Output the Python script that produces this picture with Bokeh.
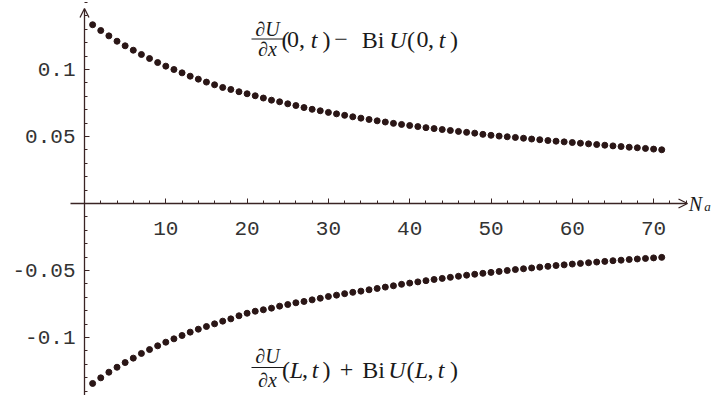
from bokeh.plotting import figure
from bokeh.models import LinearAxis, FixedTicker, Arrow, OpenHead, Label, Range1d
from bokeh.embed import file_html
from bokeh.resources import INLINE

# ---- data -------------------------------------------------------------
n_terms = list(range(1, 72))

# dU/dx(0,t) - Bi U(0,t)
flux_left = [
    0.1334, 0.1291, 0.1251, 0.1211, 0.1177, 0.1144, 0.1112, 0.1082, 0.1052, 0.1025,
    0.1000, 0.0975, 0.0950, 0.0928, 0.0906, 0.0886, 0.0866, 0.0851, 0.0834, 0.0819,
    0.0804, 0.0787, 0.0771, 0.0759, 0.0744, 0.0731, 0.0716, 0.0703, 0.0692, 0.0680,
    0.0669, 0.0658, 0.0647, 0.0637, 0.0627, 0.0617, 0.0608, 0.0598, 0.0590, 0.0582,
    0.0574, 0.0566, 0.0559, 0.0552, 0.0545, 0.0538, 0.0531, 0.0525, 0.0516, 0.0509,
    0.0503, 0.0498, 0.0493, 0.0487, 0.0481, 0.0476, 0.0470, 0.0465, 0.0460, 0.0455,
    0.0450, 0.0445, 0.0440, 0.0435, 0.0430, 0.0425, 0.0420, 0.0416, 0.0411, 0.0406,
    0.0401,
]

# dU/dx(L,t) + Bi U(L,t)
flux_right = [
    -0.1343, -0.1301, -0.1259, -0.1222, -0.1187, -0.1154, -0.1119, -0.1090, -0.1062, -0.1035,
    -0.1010, -0.0985, -0.0960, -0.0938, -0.0918, -0.0898, -0.0878, -0.0861, -0.0838, -0.0819,
    -0.0804, -0.0793, -0.0781, -0.0766, -0.0754, -0.0741, -0.0731, -0.0719, -0.0707, -0.0694,
    -0.0684, -0.0673, -0.0663, -0.0654, -0.0644, -0.0634, -0.0624, -0.0614, -0.0603, -0.0594,
    -0.0585, -0.0576, -0.0567, -0.0559, -0.0551, -0.0543, -0.0535, -0.0528, -0.0521, -0.0514,
    -0.0507, -0.0500, -0.0493, -0.0487, -0.0481, -0.0475, -0.0469, -0.0463, -0.0458, -0.0452,
    -0.0447, -0.0442, -0.0437, -0.0432, -0.0427, -0.0423, -0.0418, -0.0414, -0.0410, -0.0406,
    -0.0402,
]

x_ticks = [10, 20, 30, 40, 50, 60, 70]
x_minor = list(range(2, 76, 2))
y_ticks = [-0.1, -0.05, 0.05, 0.1]
y_tick_labels = ["-0.1", "-0.05", "0.05", "0.1"]
y_minor = [round(-0.14 + 0.01 * i, 2) for i in range(30)]

# ---- geometry ---------------------------------------------------------
W, H = 712, 395
X0, Y0 = 84.0, 203.0      # where the two axes cross, in canvas pixels
SX, SY = 8.13, 1340.0     # pixels per data unit
TEXT_LIFT = 7             # Label baselines sit a little low; raise them

def dx(px):
    return (px - X0) / SX

def dy(py):
    return (Y0 - py) / SY

AX = "#3a2424"
DOT = "#2a1616"
INK = "#1a1a1a"

p = figure(width=W, height=H, output_backend="svg", toolbar_location=None,
           x_axis_type=None, y_axis_type=None,
           x_range=Range1d(dx(0), dx(W)), y_range=Range1d(dy(H), dy(0)),
           min_border=0, background_fill_color="white", border_fill_color="white")
p.outline_line_color = None
p.xgrid.visible = False
p.ygrid.visible = False

xaxis = LinearAxis(fixed_location=0,
                   ticker=FixedTicker(ticks=x_ticks, minor_ticks=x_minor),
                   axis_line_color=None,
                   major_tick_in=5, major_tick_out=0, minor_tick_in=3, minor_tick_out=0,
                   major_tick_line_color=AX, minor_tick_line_color=AX,
                   major_label_standoff=18,
                   major_label_text_font="Liberation Mono",
                   major_label_text_font_size="21px",
                   major_label_text_color="#333333")
p.add_layout(xaxis, "below")

yaxis = LinearAxis(fixed_location=0,
                   ticker=FixedTicker(ticks=y_ticks, minor_ticks=y_minor),
                   major_label_overrides={t: s for t, s in zip(y_ticks, y_tick_labels)},
                   axis_line_color=None,
                   major_tick_in=5, major_tick_out=0, minor_tick_in=3, minor_tick_out=0,
                   major_tick_line_color=AX, minor_tick_line_color=AX,
                   major_label_standoff=9,
                   major_label_text_font="Liberation Mono",
                   major_label_text_font_size="21px",
                   major_label_text_color="#333333")
p.add_layout(yaxis, "left")

# axis lines with open arrowheads
p.add_layout(Arrow(end=OpenHead(size=9, line_color=AX, line_width=1.3),
                   x_start=dx(70), y_start=0, x_end=dx(687), y_end=0,
                   line_color=AX, line_width=1.3))
p.add_layout(Arrow(end=OpenHead(size=9, line_color=AX, line_width=1.3),
                   x_start=0, y_start=dy(H + 5), x_end=0, y_end=dy(8),
                   line_color=AX, line_width=1.3))

# the two boundary-flux series
p.scatter(n_terms, flux_left, size=6, color=DOT)
p.scatter(n_terms, flux_right, size=6, color=DOT)


def put(text, px, py, size=24, style="normal"):
    p.add_layout(Label(x=dx(px), y=dy(py - TEXT_LIFT), text=text,
                       text_font="Liberation Serif", text_font_size=f"{size}px",
                       text_font_style=style, text_align="center",
                       text_baseline="alphabetic", text_color=INK))


def fraction(cx, num_base, bar_y, den_base):
    put("\u2202U", cx, num_base, 20, "italic")
    put("\u2202x", cx, den_base, 20, "italic")
    p.add_layout(Arrow(end=None, x_start=dx(cx - 16), y_start=dy(bar_y),
                       x_end=dx(cx + 17), y_end=dy(bar_y),
                       line_color=INK, line_width=1.2))


# upper caption:  dU/dx (0,t) - Bi U(0,t)
fraction(267, 35, 38.5, 55)
for t, cx, st in [("(", 285, "normal"), ("0", 292.5, "normal"), (",", 301.5, "normal"),
                  ("t", 313.5, "italic"), (")", 326, "normal"), ("\u2212", 340.5, "normal"),
                  ("Bi", 372.5, "normal"), ("U", 397.5, "italic"), ("(", 410.5, "normal"),
                  ("0", 422, "normal"), (",", 430.5, "normal"), ("t", 441.5, "italic"),
                  (")", 453.5, "normal")]:
    put(t, cx, 46, 24, st)

# lower caption:  dU/dx (L,t) + Bi U(L,t)
fraction(267, 362, 367, 386)
for t, cx, st in [("(", 285.5, "normal"), ("L", 296, "italic"), (",", 304.5, "normal"),
                  ("t", 314.5, "italic"), (")", 326, "normal"), ("+", 346, "normal"),
                  ("Bi", 373, "normal"), ("U", 396.5, "italic"), ("(", 410, "normal"),
                  ("L", 421, "italic"), (",", 430, "normal"), ("t", 440.5, "italic"),
                  (")", 453.5, "normal")]:
    put(t, cx, 376, 24, st)

# axis name N_a
put("N", 695, 210, 20, "italic")
put("a", 707, 213, 13, "italic")

open("out.html", "w").write(file_html(p, INLINE))
